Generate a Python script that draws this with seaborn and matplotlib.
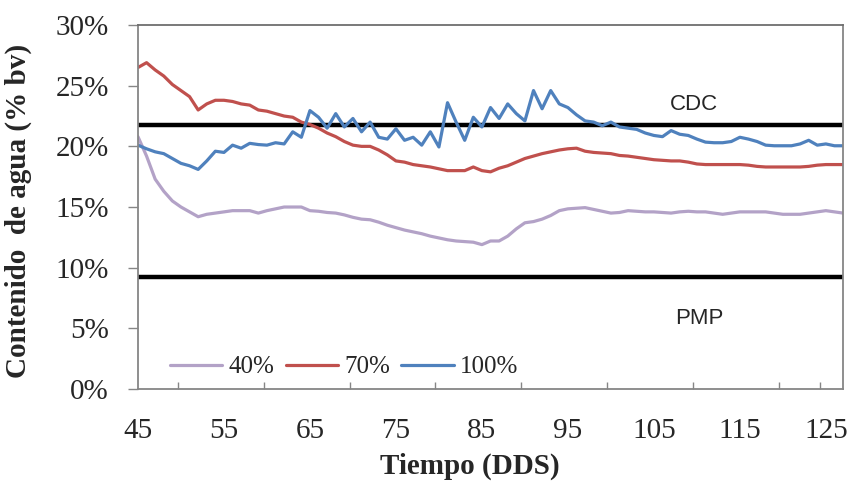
import matplotlib
matplotlib.use('Agg')
from matplotlib import pyplot as plt
import matplotlib.ticker as ticker
import seaborn as sns
import pandas as pd


# Data (% water content by volume)
dias = list(range(45, 128))

riego_40 = [20.8, 19.2, 17.3, 16.3, 15.5, 15.0, 14.6, 14.2, 14.4, 14.5,
            14.6, 14.7, 14.7, 14.7, 14.5, 14.7, 14.85, 15.0, 15.0, 15.0,
            14.7, 14.65, 14.55, 14.5, 14.35, 14.15, 14.0, 13.95, 13.75, 13.5,
            13.3, 13.1, 12.95, 12.8, 12.6, 12.45, 12.3, 12.2, 12.15, 12.1,
            11.9, 12.2, 12.2, 12.6, 13.2, 13.7, 13.8, 14.0, 14.3, 14.7,
            14.85, 14.9, 14.95, 14.8, 14.65, 14.5, 14.55, 14.7, 14.65, 14.6,
            14.6, 14.55, 14.5, 14.6, 14.65, 14.6, 14.6, 14.5, 14.4, 14.5,
            14.6, 14.6, 14.6, 14.6, 14.5, 14.4, 14.4, 14.4, 14.5, 14.6,
            14.7, 14.6, 14.5]

riego_70 = [26.5, 26.9, 26.3, 25.8, 25.1, 24.6, 24.1, 23.0, 23.5, 23.8,
            23.8, 23.7, 23.5, 23.4, 23.0, 22.9, 22.7, 22.5, 22.4, 22.0,
            21.8, 21.5, 21.1, 20.8, 20.4, 20.1, 20.0, 20.0, 19.7, 19.3,
            18.8, 18.7, 18.5, 18.4, 18.3, 18.15, 18.0, 18.0, 18.0, 18.3,
            18.0, 17.9, 18.2, 18.4, 18.7, 19.0, 19.2, 19.4, 19.55, 19.7,
            19.8, 19.85, 19.6, 19.5, 19.45, 19.4, 19.25, 19.2, 19.1, 19.0,
            18.9, 18.85, 18.8, 18.8, 18.7, 18.55, 18.5, 18.5, 18.5, 18.5,
            18.5, 18.45, 18.35, 18.3, 18.3, 18.3, 18.3, 18.3, 18.35, 18.45,
            18.5, 18.5, 18.5]

riego_100 = [20.1, 19.8, 19.55, 19.4, 19.0, 18.6, 18.4, 18.1, 18.8, 19.6,
             19.5, 20.1, 19.85, 20.25, 20.15, 20.1, 20.3, 20.2, 21.2, 20.75,
             22.95, 22.4, 21.5, 22.7, 21.6, 22.3, 21.2, 22.0, 20.75, 20.6,
             21.45, 20.5, 20.75, 20.1, 21.2, 19.95, 23.6, 22.0, 20.5, 22.4,
             21.6, 23.2, 22.3, 23.5, 22.7, 22.1, 24.6, 23.1, 24.6, 23.5,
             23.2, 22.6, 22.1, 22.0, 21.7, 22.0, 21.6, 21.5, 21.4, 21.1,
             20.9, 20.8, 21.3, 21.0, 20.9, 20.6, 20.35, 20.3, 20.3, 20.4,
             20.75, 20.6, 20.4, 20.1, 20.05, 20.05, 20.05, 20.2, 20.5, 20.1,
             20.2, 20.05, 20.05]

series_labels = ['40%', '70%', '100%']
colores = ['#b3a2c7', '#c0504d', '#4f81bd']

cdc = 21.75
pmp = 9.2

x_ticks = [45, 55, 65, 75, 85, 95, 105, 115, 125]
y_ticks = [0, 5, 10, 15, 20, 25, 30]


df = pd.DataFrame({
    'dia': dias * 3,
    'contenido': riego_40 + riego_70 + riego_100,
    'tratamiento': [series_labels[0]] * len(dias) + [series_labels[1]] * len(dias)
                   + [series_labels[2]] * len(dias),
})

sns.set_style('white')
plt.rcParams['font.family'] = ['Liberation Serif', 'DejaVu Serif']

fig = plt.figure(figsize=(8.49, 4.82), dpi=100)
ax = fig.add_axes([0.1625, 0.193, 0.8305, 0.755])

sns.lineplot(data=df, x='dia', y='contenido', hue='tratamiento',
             hue_order=series_labels, palette=colores, linewidth=2.3,
             ax=ax, legend=True)

ax.axhline(cdc, color='black', linewidth=3.2, zorder=1)
ax.axhline(pmp, color='black', linewidth=3.2, zorder=1)
ax.text(109.6, 23.45, 'CDC', family='Liberation Sans', fontsize=16,
        ha='center', va='center')
ax.text(110.3, 5.8, 'PMP', family='Liberation Sans', fontsize=16,
        ha='center', va='center')

ax.set_xlim(45, 127)
ax.set_ylim(0, 30)
ax.set_xticks(x_ticks)
ax.set_xticks([49.7, 59.7, 69.7, 79.6, 89.6, 99.6, 109.5, 119.5, 124.3], minor=True)
ax.set_yticks(y_ticks)
ax.yaxis.set_major_formatter(ticker.FuncFormatter(lambda v, p: f'{v:.0f}%'))
ax.tick_params(axis='x', which='major', length=0, pad=21, labelsize=21)
ax.tick_params(axis='x', which='minor', direction='in', length=5, width=1,
               color='#868686', bottom=True)
ax.tick_params(axis='y', direction='out', length=7, width=1, color='#868686',
               pad=14, labelsize=21, left=True)

for side in ['left', 'right', 'top', 'bottom']:
    ax.spines[side].set_color('#868686')
    ax.spines[side].set_linewidth(1.3)
ax.spines['top'].set_color('#6e6e6e')

ax.set_xlabel('Tiempo (DDS)', fontsize=21, fontweight='bold')
ax.set_ylabel('Contenido  de agua (% bv)', fontsize=21, fontweight='bold')
ax.xaxis.set_label_coords(0.47, -0.175)
ax.yaxis.set_label_coords(-0.15, 0.49)

ax.legend(loc='center left', bbox_to_anchor=(0.045, 0.06), ncol=3,
          frameon=False, fontsize=18, handlelength=2.1, handletextpad=0.25,
          columnspacing=0.45, borderpad=0, borderaxespad=0)

fig.savefig('out.png', dpi=100)
